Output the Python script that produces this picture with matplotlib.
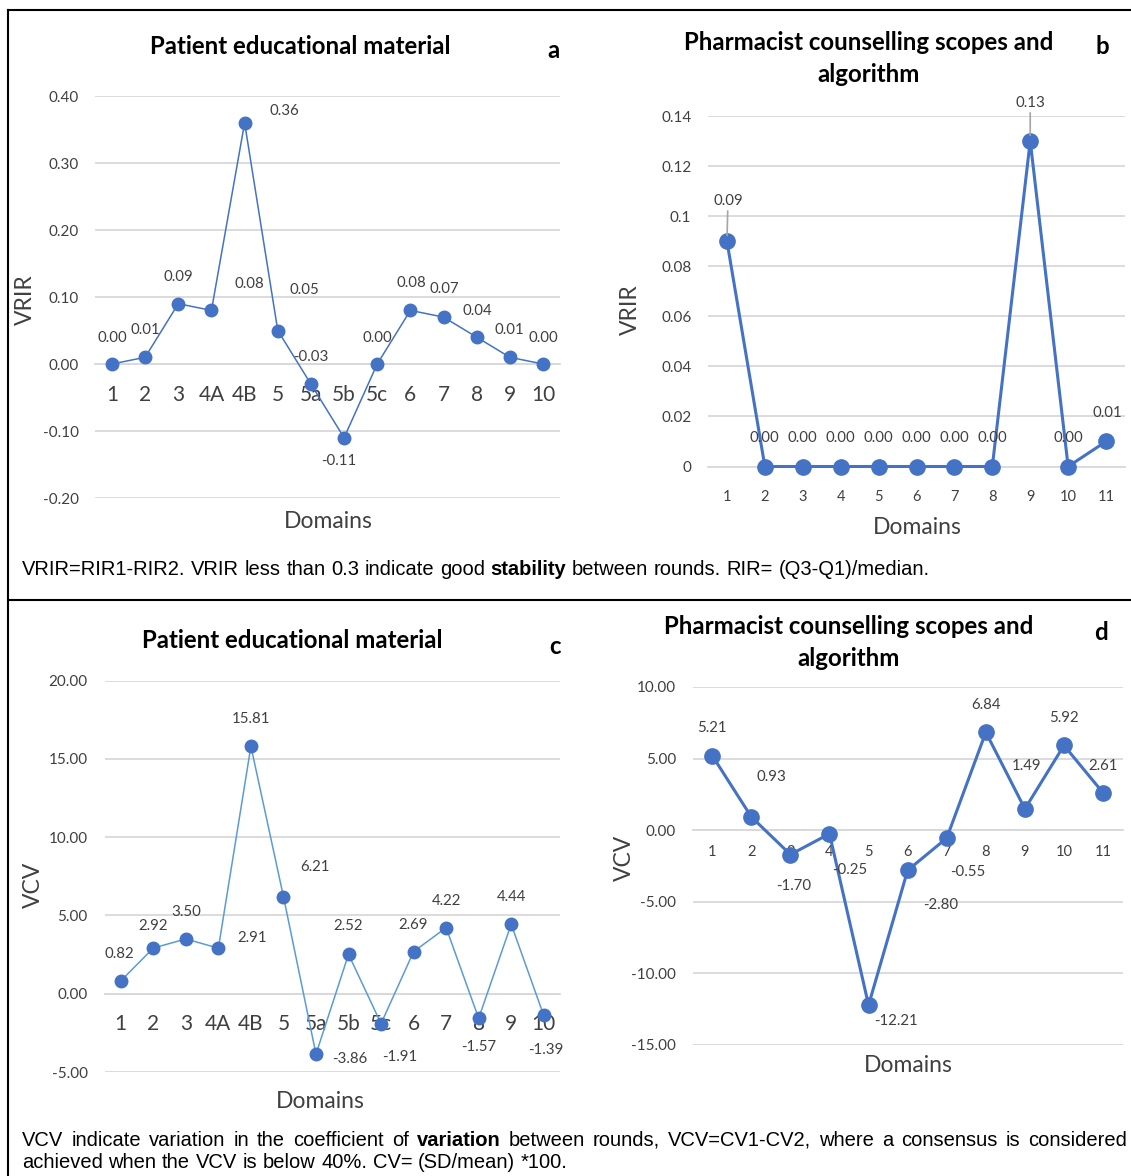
import matplotlib
matplotlib.use('Agg')
import matplotlib.pyplot as plt
from matplotlib.lines import Line2D

plt.rcParams['font.family'] = ['Lato', 'DejaVu Sans']

W, H = 1131, 1176
BLUE = '#4472c4'
LIGHT = '#5b9bd5'
GRID = '#d9d9d9'
TXT = '#404040'
CAP_FONT = 'Liberation Sans'

# patient educational material (panels a, c)
pem_domains = ['1', '2', '3', '4A', '4B', '5', '5a', '5b', '5c', '6', '7', '8', '9', '10']
pem_vrir = [0.00, 0.01, 0.09, 0.08, 0.36, 0.05, -0.03, -0.11, 0.00, 0.08, 0.07, 0.04, 0.01, 0.00]
pem_vcv = [0.82, 2.92, 3.50, 2.91, 15.81, 6.21, -3.86, 2.52, -1.91, 2.69, 4.22, -1.57, 4.44, -1.39]

# pharmacist counselling scopes and algorithm (panels b, d)
pcs_domains = ['1', '2', '3', '4', '5', '6', '7', '8', '9', '10', '11']
pcs_vrir = [0.09, 0.00, 0.00, 0.00, 0.00, 0.00, 0.00, 0.00, 0.13, 0.00, 0.01]
pcs_vcv = [5.21, 0.93, -1.70, -0.25, -12.21, -2.80, -0.55, 6.84, 1.49, 5.92, 2.61]

# data label offsets in pixels (dx, dy) - placement only
off_a = [(0, 26), (0, 27), (0, 27), (38, 26), (40, 12), (27, 41), (0, 27),
         (-5, -23), (0, 26), (1, 27), (1, 28), (1, 26), (0, 27), (0, 26)]
off_b = [(1, 40)] + [(0, 28)] * 7 + [(0, 38), (0, 28), (1, 28)]
off_c = [(-1, 27), (0, 22), (0, 27), (34, 10), (0, 27), (32, 30), (34, -5),
         (0, 28), (19, -33), (0, 27), (0, 27), (0, -29), (0, 27), (2, -35)]
off_d = [(0, 28), (20, 40), (3, -31), (20, -36), (27, -16), (33, -35),
         (21, -34), (0, 27), (2, 43), (0, 27), (0, 27)]

fig = plt.figure(figsize=(W / 100, H / 100), dpi=100)


def fx(x):
    return x / W


def fy(y):
    return 1 - y / H


def make_axes(x0, y0, x1, y1):
    return fig.add_axes([fx(x0), fy(y1), (x1 - x0) / W, (y1 - y0) / H])


def draw_panel(ax, cats, vals, offs, ylim, yticks, yfmt, xsize, xpad,
               line_color, lw, ms, lead=()):
    n = len(cats)
    x = list(range(n))
    ax.plot(x, vals, color=line_color, lw=lw, zorder=3, clip_on=False)
    ax.plot(x, vals, 'o', color=BLUE, ms=ms, zorder=4, clip_on=False)
    ax.set_xlim(-0.5, n - 0.5)
    ax.set_ylim(*ylim)
    ax.set_yticks(yticks)
    ax.set_yticklabels([yfmt(v) for v in yticks])
    ax.set_xticks(x)
    ax.set_xticklabels(cats)
    ax.grid(axis='y', color=GRID, lw=1.3)
    ax.set_axisbelow(True)
    for s in ['top', 'right', 'left']:
        ax.spines[s].set_visible(False)
    ax.spines['bottom'].set_position(('data', 0))
    ax.spines['bottom'].set_color(GRID)
    ax.spines['bottom'].set_linewidth(1.3)
    ax.tick_params(axis='y', length=0, pad=12, labelsize=11, labelcolor=TXT)
    ax.tick_params(axis='x', length=0, pad=xpad, labelsize=xsize, labelcolor=TXT)
    for lbl in ax.get_xticklabels():
        lbl.set_va('center')
    for i, (v, (dx, dy)) in enumerate(zip(vals, offs)):
        kw = {}
        if i in lead:
            kw['arrowprops'] = dict(arrowstyle='-', color='#a5a5a5', lw=1.2,
                                    shrinkA=0, shrinkB=4)
        ax.annotate(f'{v:.2f}', (i, v), xytext=(dx, dy), textcoords='offset pixels',
                    ha='center', va='center', fontsize=10.8, color=TXT, zorder=6, **kw)


# panel a
ax_a = make_axes(95.4, 96, 559.6, 498)
draw_panel(ax_a, pem_domains, pem_vrir, off_a, (-0.2, 0.4),
           [-0.2, -0.1, 0, 0.1, 0.2, 0.3, 0.4], lambda v: f'{v:.2f}',
           15, 22.5, BLUE, 1.1, 9)

# panel b
ax_b = make_axes(708, 116, 1125, 466.5)
draw_panel(ax_b, pcs_domains, pcs_vrir, off_b, (0, 0.14),
           [0, 0.02, 0.04, 0.06, 0.08, 0.1, 0.12, 0.14], lambda v: f'{v:g}',
           10.5, 22, BLUE, 2.2, 11, lead=(0, 8))

# panel c
ax_c = make_axes(104.5, 680.7, 560, 1072)
draw_panel(ax_c, pem_domains, pem_vcv, off_c, (-5, 20),
           [-5, 0, 5, 10, 15, 20], lambda v: f'{v:.2f}',
           15, 21.5, LIGHT, 1.1, 9)

# panel d
ax_d = make_axes(692.7, 687, 1122.6, 1045)
draw_panel(ax_d, pcs_domains, pcs_vcv, off_d, (-15, 10),
           [-15, -10, -5, 0, 5, 10], lambda v: f'{v:.2f}',
           10.5, 16, BLUE, 2.2, 11)

# titles, panel letters, axis labels
title_kw = dict(fontsize=17.3, fontweight='bold', color='black', ha='center', va='center')
fig.text(fx(300), fy(46), 'Patient educational material', **title_kw)
fig.text(fx(869), fy(42), 'Pharmacist counselling scopes and', **title_kw)
fig.text(fx(869), fy(74), 'algorithm', **title_kw)
fig.text(fx(292), fy(641), 'Patient educational material', **title_kw)
fig.text(fx(849), fy(627), 'Pharmacist counselling scopes and', **title_kw)
fig.text(fx(849), fy(659), 'algorithm', **title_kw)
for lx, ly, t in [(553, 50, 'a'), (1102, 47, 'b'), (555, 646, 'c'), (1101, 632, 'd')]:
    fig.text(fx(lx), fy(ly), t, **title_kw)

lab_kw = dict(fontsize=16.5, color=TXT, ha='center', va='center')
fig.text(fx(25), fy(300), 'VRIR', rotation=90, **lab_kw)
fig.text(fx(630), fy(310), 'VRIR', rotation=90, **lab_kw)
fig.text(fx(33), fy(885), 'VCV', rotation=90, **lab_kw)
fig.text(fx(624), fy(858), 'VCV', rotation=90, **lab_kw)
fig.text(fx(328), fy(521), 'Domains', **lab_kw)
fig.text(fx(917), fy(527), 'Domains', **lab_kw)
fig.text(fx(320), fy(1101), 'Domains', **lab_kw)
fig.text(fx(908), fy(1065), 'Domains', **lab_kw)


# captions with one bold word (by index), optional full justification
def caption_line(y, text, bold_idx=None, x0=22, x1=None, size=14.5):
    renderer = fig.canvas.get_renderer()
    words = text.split(' ')
    items = []
    for k, w in enumerate(words):
        t = fig.text(0, fy(y), w, fontsize=size, family=CAP_FONT, va='center',
                     fontweight='bold' if k == bold_idx else 'normal', color='black')
        items.append((t, t.get_window_extent(renderer).width))
    total = sum(w for _, w in items)
    if x1 is None:
        gap = 0.278 * size * 100 / 72
    else:
        gap = (x1 - x0 - total) / (len(items) - 1)
    x = x0
    for t, w in items:
        t.set_x(fx(x))
        x += w + gap


caption_line(570, 'VRIR=RIR1-RIR2. VRIR less than 0.3 indicate good stability '
             'between rounds. RIR= (Q3-Q1)/median.', bold_idx=7)
caption_line(1140, 'VCV indicate variation in the coefficient of variation between '
             'rounds, VCV=CV1-CV2, where a consensus is considered', bold_idx=7, x1=1127)
caption_line(1162, 'achieved when the VCV is below 40%. CV= (SD/mean) *100.')

# frame lines
for xs, ys in [([8, W], [10, 10]), ([8, 8], [10, H]), ([8, W], [600, 600])]:
    fig.add_artist(Line2D([fx(v) for v in xs], [fy(v) for v in ys],
                          transform=fig.transFigure, color='black', lw=1.5))

fig.savefig('out.png', dpi=100)
